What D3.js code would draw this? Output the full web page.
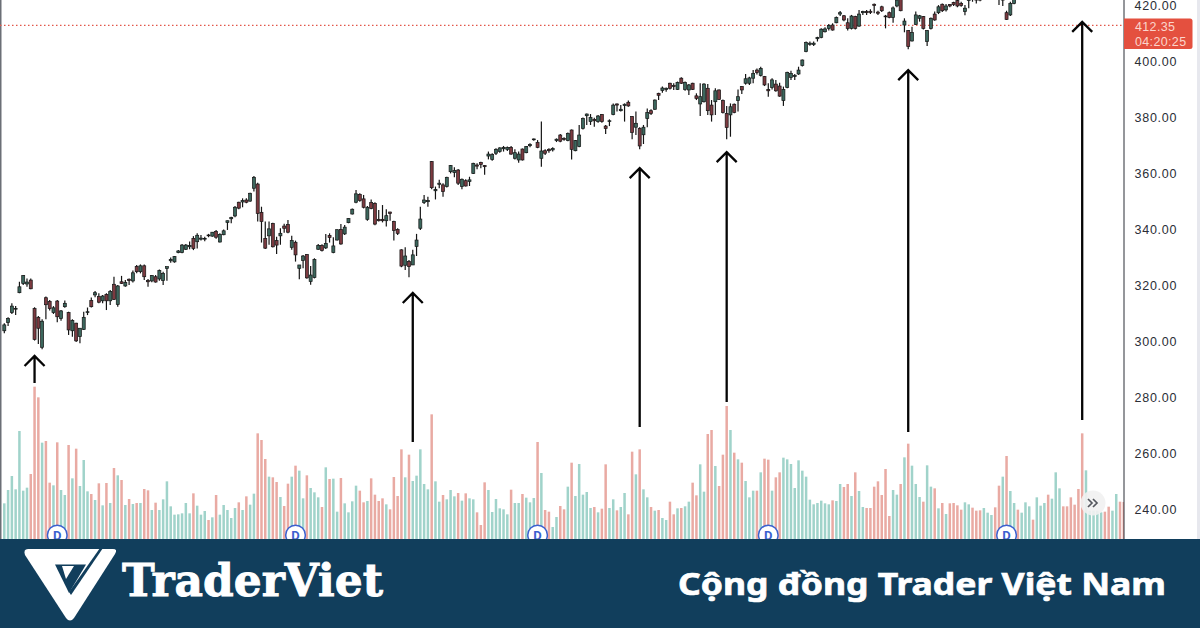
<!DOCTYPE html>
<html><head><meta charset="utf-8">
<style>html,body{margin:0;padding:0;background:#fff;overflow:hidden}svg{display:block}</style>
<script src="https://cdn.jsdelivr.net/npm/d3@7"></script></head><body>
<script>
const priceTicks=[240,260,280,300,320,340,360,380,400,420];
const lastPrice=412.35, countdown="04:20:25";
const brandName="TraderViet", tagline="Cộng đồng Trader Việt Nam";
const dividendBars=[14,77,141,202,265];
const arrowBars=[8,108,168,191,239,285];
const arrowTipPrice=[294.3,316.8,361.4,367.1,396.4,413.6];
const arrowTailPrice=[284.6,263.6,268.9,277.9,267.1,271.4];
const priceHigh=[
306.0,308.1,313.1,312.1,320.8,323.2,322.0,322.0,311.7,308.6,
307.4,315.5,314.3,312.1,314.3,310.7,314.1,310.1,307.4,306.2,
304.2,310.1,311.6,315.2,317.5,316.7,316.1,316.7,317.9,322.6,
319.6,322.9,321.4,322.0,324.8,326.8,327.0,327.0,321.8,323.2,
323.2,325.2,324.4,326.2,329.5,330.0,332.1,334.3,334.3,335.2,
337.1,338.1,337.5,336.9,337.9,338.6,339.3,338.1,339.5,342.6,
344.0,347.9,349.4,350.6,350.6,352.6,358.6,356.2,347.6,342.3,
342.3,341.9,336.9,339.9,341.5,342.9,337.2,335.5,326.8,330.4,
330.7,326.4,329.2,334.3,334.2,337.9,338.1,336.7,339.5,341.4,
341.1,343.5,347.0,353.6,352.4,351.8,347.9,350.2,349.2,346.4,
348.2,346.7,345.8,342.6,339.9,332.4,333.1,328.6,332.2,337.9,
347.6,351.8,351.2,363.9,354.8,357.2,356.0,358.3,362.5,361.7,
361.1,357.7,357.4,358.3,363.3,363.1,363.7,362.5,367.3,366.7,
368.5,368.8,369.3,369.1,369.3,368.1,367.3,368.4,369.3,370.3,
372.0,371.4,378.0,368.1,368.5,368.8,372.0,373.6,372.4,374.1,
375.2,371.4,376.8,379.5,380.9,380.7,379.4,380.4,380.7,376.8,
378.8,384.5,384.5,383.9,384.5,385.5,380.0,381.6,376.0,376.8,
382.7,382.4,385.9,388.3,390.5,390.2,391.9,391.7,392.3,393.8,
392.3,391.4,391.9,388.1,391.7,391.7,391.4,385.7,389.9,389.5,
385.9,383.6,384.5,384.5,389.5,390.7,395.0,394.0,396.4,397.0,
397.6,394.3,391.7,393.5,392.9,391.9,390.5,395.8,396.2,395.0,
397.6,400.2,406.6,406.6,406.6,408.3,411.3,411.7,412.9,413.1,
415.5,417.5,416.1,414.9,416.1,415.8,417.9,417.6,417.9,418.1,
420.2,417.6,419.4,416.1,417.3,419.1,422.0,422.6,414.9,410.7,
411.9,417.3,416.1,415.7,410.7,415.2,417.3,419.6,420.2,420.0,
420.0,420.8,421.7,420.8,419.6,422.6,422.4,422.1,422.0,425.0,
426.0,425.5,424.5,422.6,422.6,417.6,420.8,422.4];
const bodyTop=[
305.4,307.7,312.1,311.3,319.0,323.0,320.7,321.4,311.2,308.1,
306.7,315.1,313.8,311.5,313.9,310.4,313.1,309.8,307.0,306.0,
304.2,308.1,310.1,314.1,316.9,315.5,315.7,316.3,317.3,319.9,
319.3,320.8,320.6,321.7,324.0,326.3,326.5,326.5,321.2,323.0,
322.6,324.8,323.8,326.2,328.8,329.8,331.8,333.9,333.9,333.8,
336.3,337.4,336.4,336.3,337.5,338.5,338.8,337.7,339.0,342.6,
343.7,347.4,349.2,349.8,350.0,352.4,358.1,355.7,345.6,336.3,
339.7,341.6,335.5,338.1,340.7,341.2,335.5,334.9,326.8,330.0,
330.5,323.2,328.8,333.8,333.7,334.5,337.3,333.6,339.4,339.5,
340.3,343.4,346.7,352.2,352.0,350.4,347.4,349.1,348.8,343.1,
343.1,344.4,345.7,342.3,339.5,332.2,330.0,328.0,330.4,335.7,
343.2,350.0,349.8,363.7,353.8,356.0,355.4,358.1,362.3,360.5,
360.7,357.4,356.9,357.2,363.1,362.5,363.4,362.3,366.4,366.2,
368.1,368.6,368.8,368.7,368.8,366.9,366.4,368.2,369.1,369.8,
371.8,370.6,367.5,367.6,368.1,368.4,371.7,373.2,372.0,373.8,
375.0,371.2,373.2,379.1,380.7,379.5,378.8,380.0,380.5,376.4,
378.3,383.9,384.3,382.4,384.2,384.9,379.8,377.4,375.6,376.0,
381.2,381.9,385.7,388.1,390.0,389.9,391.7,390.9,392.0,393.5,
392.0,391.1,391.7,387.2,386.9,391.4,389.9,383.9,389.0,389.3,
385.5,380.9,383.3,384.2,386.9,390.5,393.3,393.6,395.2,396.4,
397.0,394.1,389.5,392.9,391.4,390.7,389.5,395.6,395.2,394.5,
396.4,400.0,406.2,406.0,406.0,408.0,411.0,411.1,412.3,412.5,
415.2,416.9,415.8,413.3,415.7,415.5,416.4,417.3,417.3,417.4,
419.9,417.1,419.0,415.7,416.9,418.6,421.4,422.0,413.9,410.5,
409.8,416.1,415.8,415.5,410.5,414.9,416.4,419.0,419.9,419.3,
419.8,420.5,421.2,420.2,418.5,422.0,422.1,421.9,421.8,424.2,
425.2,424.9,424.0,422.4,422.0,416.9,420.2,422.0];
const bodyBottom=[
303.3,306.2,309.8,311.0,316.9,320.2,320.0,318.3,300.2,304.2,
297.4,312.6,311.2,309.8,308.3,307.7,311.9,303.6,303.3,299.7,
301.2,303.8,309.8,311.9,316.1,313.5,314.0,314.0,314.0,314.5,
312.7,320.2,319.3,321.2,321.1,324.4,324.4,322.6,320.8,321.1,
320.7,321.8,321.2,325.6,328.3,327.9,331.2,331.2,332.4,333.3,
332.7,335.1,336.0,336.1,337.3,337.1,336.7,335.0,337.6,342.0,
343.3,344.3,347.1,349.3,349.2,349.6,354.2,345.2,342.3,332.8,
337.2,333.3,333.9,337.2,339.9,338.5,333.1,330.4,325.6,328.4,
322.2,320.9,322.3,332.4,332.0,332.9,336.6,331.2,335.7,334.3,
337.9,341.9,345.0,349.2,349.8,347.4,343.1,347.0,341.4,342.6,
342.6,342.6,345.2,339.1,338.1,326.4,326.7,326.2,326.8,333.4,
339.9,349.1,349.4,354.4,353.3,355.6,353.0,354.8,360.1,359.8,
356.0,354.8,355.0,356.6,359.5,362.1,362.7,361.9,365.7,364.5,
366.7,367.3,368.3,368.1,366.4,364.9,364.3,364.3,366.9,369.4,
371.6,368.8,364.9,366.7,367.6,367.9,371.2,371.0,371.6,371.2,
368.1,367.6,369.1,375.6,380.1,378.0,378.3,378.0,378.0,375.5,
378.0,380.5,383.9,381.9,383.7,383.6,374.1,376.0,369.3,373.3,
379.1,380.9,382.4,387.4,389.1,389.5,389.9,390.5,389.5,391.7,
389.5,389.3,389.5,386.3,384.3,385.1,381.9,380.4,385.1,385.9,
381.2,375.9,380.4,381.3,385.5,389.3,391.7,391.7,393.5,395.5,
394.5,391.1,389.0,390.2,389.0,387.1,385.5,390.2,393.8,394.1,
395.0,398.0,403.0,405.6,405.5,407.6,408.1,410.1,411.3,410.7,
413.3,416.4,414.3,411.3,411.3,411.3,412.1,416.9,416.9,417.0,
419.5,416.7,417.6,415.5,415.2,415.2,419.3,417.6,412.5,404.8,
406.8,412.7,414.9,411.3,406.6,411.3,414.3,416.9,417.6,417.9,
419.3,419.8,419.3,419.5,417.3,421.2,421.8,421.4,421.4,423.4,
424.2,424.1,423.2,422.0,421.4,414.5,416.1,420.2];
const priceLow=[
302.4,305.0,309.3,308.9,316.7,319.6,319.0,318.1,299.8,298.6,
296.7,307.4,310.5,309.3,306.3,306.9,311.5,301.8,301.2,299.3,
298.8,303.6,308.9,311.6,315.3,313.1,313.1,310.7,312.5,314.3,
311.9,320.0,319.0,319.6,320.5,323.8,323.8,321.4,319.0,320.6,
320.5,321.2,319.6,321.2,327.6,327.6,331.0,331.0,332.1,332.4,
332.1,332.7,335.5,335.3,336.7,336.9,336.2,334.8,337.4,339.3,
341.7,343.8,346.7,347.4,348.8,349.4,353.0,342.3,334.8,332.5,
334.0,333.0,330.7,334.0,338.3,338.1,332.2,328.0,321.7,325.6,
321.9,319.7,322.0,332.2,331.6,332.5,334.8,331.0,335.5,334.0,
337.5,341.7,344.8,348.8,349.4,347.0,342.6,346.7,341.0,342.3,
342.0,340.5,342.6,335.5,337.5,326.0,325.0,322.4,326.8,330.0,
339.3,348.6,347.6,353.8,350.2,354.2,351.2,354.5,359.5,358.1,
355.4,353.8,354.8,355.0,359.3,361.0,361.3,359.0,364.5,364.0,
366.1,366.9,367.3,367.5,366.2,364.5,363.3,364.1,366.7,368.8,
371.2,368.5,361.9,366.1,366.9,367.3,370.7,370.6,371.2,371.0,
364.5,367.4,368.8,375.2,376.8,376.8,376.2,377.6,377.6,373.6,
376.4,380.3,381.6,381.6,378.0,383.3,371.7,373.2,368.1,370.0,
376.0,380.4,382.2,385.7,388.3,388.7,389.5,389.3,389.3,391.4,
389.0,387.5,389.3,385.7,380.0,384.8,380.4,378.0,380.4,385.7,
380.9,371.7,372.6,381.0,381.6,387.9,391.2,391.1,391.7,394.8,
394.1,390.7,386.9,389.5,388.7,386.9,383.6,389.9,392.9,392.9,
394.7,397.7,402.8,405.1,405.0,406.6,407.8,409.8,410.5,410.5,
413.1,415.7,413.8,410.5,410.9,410.9,411.9,416.1,416.1,416.4,
416.7,416.1,417.1,411.3,414.9,413.3,418.8,417.4,409.9,403.8,
406.6,412.5,413.7,410.9,405.0,410.9,414.0,416.4,417.1,417.3,
418.8,419.3,418.8,419.0,416.0,418.5,420.8,420.2,421.0,423.0,
423.7,423.5,422.5,419.6,419.3,414.3,415.7,419.9];
const volumes=[
107,147,189,149,324,145,154,195,457,425,289,294,169,161,290,147,132,282,182,271,159,237,143,135,117,167,101,168,108,213,191,177,102,120,105,108,108,150,146,87,109,87,119,173,98,73,74,77,108,77,137,100,73,84,57,65,132,73,102,87,63,93,110,87,128,103,136,317,297,240,187,185,171,126,99,166,187,220,205,
122,191,153,140,125,96,215,180,181,82,183,107,80,113,160,145,110,114,182,133,114,122,104,89,186,129,269,185,253,174,190,269,165,149,374,173,112,132,119,147,128,138,115,137,122,119,80,42,170,147,81,120,92,89,74,148,108,108,135,124,110,123,291,198,87,82,36,66,99,89,157,229,129,225,133,141,93,96,80,
91,224,93,119,86,96,138,74,262,194,269,149,125,96,85,87,63,57,112,74,92,93,98,112,169,131,224,142,315,327,219,159,253,399,327,259,239,229,174,125,145,145,200,241,238,145,185,200,244,239,225,153,236,205,187,118,104,108,115,107,104,116,114,165,156,165,129,200,144,96,93,93,157,173,132,210,69,147,133,
165,245,286,220,165,126,112,221,157,152,92,108,75,107,108,101,88,110,104,94,85,86,93,79,72,95,160,187,249,144,108,88,79,110,98,58,125,100,108,133,121,200,152,98,98,125,103,150,317,206,85,85,85,80,82,97,85,135,112,111];
const barSide=(
"GGGGGGG RRR G RR G R GG R G R GGG R G R GRGRGRGRGR G RR G R GGGGGGGGG R GGG R G R GGGGG R G R GG RRR G RR G RR G R G "+
"G R GGG R G R GG R GGGG RR G RRRR G RRRR G R GGGGG R GG R GGG R G R GG RRR GGGGGG R GG R GGG R G RR GG RR G R GGGGG R G "+
"RR GG R GG RR G R GG R G R GG RR G R GG RR GG RR G RRR G R G R GGG R G RR G RR GGGGGGGGGGGGG R GG RR G R GG RRRRRRR GG "+
"R G R GGG R GG R G R G RRRR GG RRR GGG RR G R GG R GGG R GGG R GGG RRRRRR GGGGG RR GG RR").replace(/ /g,"");

const W=1200,H=628,plotRight=1124,bannerTop=539;
const x=d3.scaleLinear().domain([0,296]).range([4.3,1123.8]);
const y=d3.scaleLinear().domain([240,420]).range([508,4]);
const v=d3.scaleLinear().domain([0,480]).range([bannerTop,379]);
const redVol="#e9aaa3",greenVol="#a0d3ca",redBody="#7c3a40",greenBody="#3c675d";
const ink="#141414",banner="#113e5c";

const svg=d3.select("body").append("svg").attr("width",W).attr("height",H);
svg.append("rect").attr("width",W).attr("height",H).attr("fill","#fff");
svg.append("rect").attr("x",1197).attr("width",3).attr("height",bannerTop).attr("fill","#e7e8ee");
svg.append("rect").attr("x",0).attr("width",1.5).attr("height",bannerTop).attr("fill","#6b6f76");
svg.append("defs").append("clipPath").attr("id","plot").append("rect").attr("width",plotRight).attr("height",bannerTop);
const plot=svg.append("g").attr("clip-path","url(#plot)");

plot.append("line").attr("x1",0).attr("x2",plotRight).attr("y1",y(lastPrice)).attr("y2",y(lastPrice))
  .attr("stroke","#e2574a").attr("stroke-width",1.2).attr("stroke-dasharray","1.5 2.5");

plot.append("g").selectAll("rect").data(volumes).join("rect")
  .attr("x",(d,i)=>x(i)-1.25).attr("width",2.5)
  .attr("y",d=>v(d)).attr("height",d=>bannerTop-v(d))
  .attr("fill",(d,i)=>barSide[i]==="R"?redVol:greenVol);

const candleIdx=d3.range(priceHigh.length);
const candles=plot.append("g");
candles.selectAll("line").data(candleIdx).join("line")
  .attr("x1",i=>x(i)).attr("x2",i=>x(i))
  .attr("y1",i=>y(priceHigh[i])).attr("y2",i=>y(priceLow[i]))
  .attr("stroke",ink).attr("stroke-width",1.2);
candles.selectAll("rect").data(candleIdx).join("rect")
  .attr("x",i=>x(i)-1.5).attr("width",3)
  .attr("y",i=>y(bodyTop[i])).attr("height",i=>Math.max(0.8,y(bodyBottom[i])-y(bodyTop[i])))
  .attr("fill",i=>barSide[i]==="R"?redBody:greenBody)
  .attr("stroke",ink).attr("stroke-width",0.7);

const arrows=plot.append("g").attr("fill","none").attr("stroke","#050505").attr("stroke-width",2.3);
arrowBars.forEach((b,k)=>{
  const ax=x(b),tip=y(arrowTipPrice[k]),tail=y(arrowTailPrice[k]);
  const p=d3.path();p.moveTo(ax,tail);p.lineTo(ax,tip);
  p.moveTo(ax-10,tip+10);p.lineTo(ax,tip);p.lineTo(ax+10,tip+10);
  arrows.append("path").attr("d",p.toString());
});

const div=plot.append("g").selectAll("g").data(dividendBars).join("g")
  .attr("transform",b=>`translate(${x(b)},535)`);
div.append("circle").attr("r",9.8).attr("fill","#fff").attr("stroke","#3c61cf").attr("stroke-width",1.5);
div.append("text").attr("text-anchor","middle").attr("y",5).attr("fill","#3c61cf")
  .attr("font-family","Roboto,sans-serif").attr("font-weight",700).attr("font-size",13).text("D");

const btn=svg.append("g").attr("transform","translate(1093,503)");
btn.append("circle").attr("r",12.5).attr("fill","#f1f1f1").attr("fill-opacity",0.9);
btn.append("path").attr("d","M-5,-4L-1,0L-5,4M0,-4L4,0L0,4").attr("fill","none").attr("stroke","#55585f").attr("stroke-width",1.7);

const axis=d3.axisRight(y).tickValues(priceTicks).tickSize(0).tickPadding(10.5).tickFormat(d3.format(".2f"));
const ax=svg.append("g").attr("transform",`translate(${plotRight},0)`).call(axis);
ax.select(".domain").remove();
ax.selectAll("text").attr("dy","0.42em").attr("font-family","'Liberation Sans',Arial,sans-serif").attr("font-size",12.5).attr("fill","#2b2e36").attr("letter-spacing","0.75px");
svg.append("line").attr("x1",plotRight).attr("x2",plotRight).attr("y1",0).attr("y2",bannerTop).attr("stroke","#2b2e36").attr("stroke-width",1);

svg.append("path").attr("d",`M${plotRight},18.5H1190a2.5,2.5 0 0 1 2.5,2.5V46.5a2.5,2.5 0 0 1 -2.5,2.5H${plotRight}Z`).attr("fill","#e4503f");
[lastPrice.toFixed(2),countdown].forEach((t,i)=>{
  svg.append("text").attr("x",1135).attr("y",i?46:31).text(t)
   .attr("font-family","'Liberation Sans',Arial,sans-serif").attr("font-size",12.5).attr("letter-spacing","0.35px").attr("fill","#fbd5cc");
});

svg.append("rect").attr("y",bannerTop).attr("width",W).attr("height",H-bannerTop).attr("fill",banner);
const logo=svg.append("g");
logo.append("path").attr("d","M28,549H113Q118,549 115,554L74,618Q70,623 66,618L25,555Q23,549 28,549Z").attr("fill","#fff");
logo.append("path").attr("d","M55,564.5H86L69,593Z").attr("fill",banner);
logo.append("path").attr("d","M62,566H74L66,579Z").attr("fill","#fff");
logo.append("path").attr("d","M100,548H103L71,595L69,592Z").attr("fill",banner);
svg.append("text").attr("x",122).attr("y",596).text(brandName)
  .attr("font-family","'DejaVu Serif',serif").attr("font-weight",700).attr("font-size",44)
  .attr("textLength",261).attr("lengthAdjust","spacingAndGlyphs").attr("fill","#fff")
  .attr("stroke","#fff").attr("stroke-width",0.9);
svg.append("text").attr("x",678).attr("y",595).text(tagline)
  .attr("font-family","'Noto Sans',sans-serif").attr("font-weight",700).attr("font-size",31)
  .attr("textLength",488).attr("lengthAdjust","spacingAndGlyphs").attr("fill","#fff")
  .attr("stroke","#fff").attr("stroke-width",0.7);
</script>
</body></html>
